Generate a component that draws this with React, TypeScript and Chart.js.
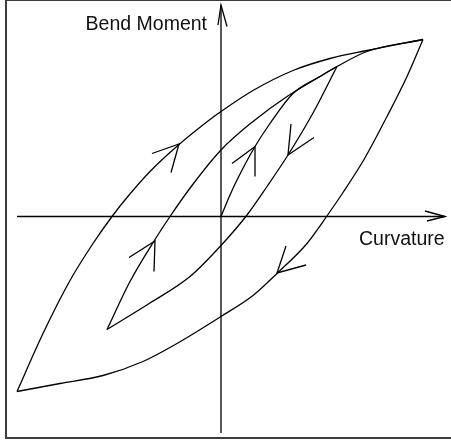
import React, { useEffect, useRef } from "react";
import { Chart, registerables } from "chart.js";

Chart.register(...registerables);

type P = [number, number];

// Hysteresis branches (curvature, bend moment), arbitrary units, origin at axes crossing
const outerLoading: P[] = [
  [-204, -175], [-178, -117], [-151, -64], [-128, -27], [-109, 0], [-94, 19],
  [-71, 45], [-42, 72], [-11, 97], [0, 105], [32, 126], [72, 146], [109, 158], [146, 166], [202, 177],
];
const outerUnloading: P[] = [
  [202, 177], [186, 140], [166, 100], [143, 57], [122, 24], [107, 2], [86, -27], [57, -56],
  [32, -79], [0, -100], [-44, -127], [-78, -145], [-118, -159], [-161, -167], [-204, -175],
];
const innerReloading: P[] = [
  [-114, -113], [-91, -65], [-66, -23], [-51, 0], [-29, 31], [0, 66.5], [32, 95],
  [66, 120], [99, 140], [116, 150], [146, 165], [202, 177],
];
const virginCurve: P[] = [
  [0, 0], [9, 21.5], [16, 36.5], [34, 70], [49, 93], [72, 123], [99, 140], [116, 150],
];
const innerUnloading: P[] = [
  [116, 150], [92, 103.5], [67, 61.5], [46, 30], [26, 1.5], [0, -29], [-31, -60], [-71, -86.5], [-114, -113],
];

// Direction arrowheads: barb, tip, barb
const arrowHeads: P[][] = [
  [[-69, 63], [-42, 72.5], [-50, 44]],
  [[11, 53], [34, 70], [34, 40]],
  [[70, 92.5], [67, 61.5], [93, 79]],
  [[-92, -41], [-66, -24.5], [-67, -55]],
  [[65, -29.5], [56, -56.5], [85, -48.5]],
];

// Axes with arrows
const momentAxis: P[] = [[0, -216.5], [0, 211.5]];
const momentArrow: P[] = [[-3, 191.5], [0, 211.5], [6, 190]];
const curvatureAxis: P[] = [[-204, 0], [224, 0]];
const curvatureArrow: P[] = [[204, 5.5], [224, 0], [206, -4.5]];

const axisTitles = ["Bend Moment", "Curvature"];

const toPts = (a: P[]) => a.map(([x, y]) => ({ x, y }));

const labelPlugin = {
  id: "axisTitles",
  afterDatasetsDraw(chart: any, _args: any, opts: any) {
    const { ctx, scales } = chart;
    ctx.save();
    ctx.font = '19.5px "Liberation Sans", Arial, sans-serif';
    ctx.fillStyle = "#111";
    ctx.textBaseline = "alphabetic";
    (opts.items || []).forEach((it: any) => {
      ctx.textAlign = it.align;
      ctx.fillText(it.text, scales.x.getPixelForValue(it.x), scales.y.getPixelForValue(it.y));
    });
    ctx.restore();
  },
};

export default function App() {
  const ref = useRef<HTMLCanvasElement | null>(null);
  useEffect(() => {
    if (!ref.current) return;
    const curve = (d: P[]) => ({
      data: toPts(d),
      showLine: true,
      borderColor: "#000",
      borderWidth: 1.3,
      pointRadius: 0,
      cubicInterpolationMode: "monotone",
      fill: false,
    });
    const straight = (d: P[]) => ({
      data: toPts(d),
      showLine: true,
      borderColor: "#000",
      borderWidth: 1.3,
      pointRadius: 0,
      tension: 0,
      fill: false,
    });
    const chart = new Chart(ref.current, {
      type: "scatter",
      data: {
        datasets: [
          straight(momentAxis),
          straight(momentArrow),
          straight(curvatureAxis),
          straight(curvatureArrow),
          curve(outerLoading),
          curve(outerUnloading),
          curve(innerReloading),
          curve(virginCurve),
          curve(innerUnloading),
          ...arrowHeads.map((a) => straight(a)),
        ] as any,
      },
      options: {
        animation: false,
        responsive: false,
        layout: { padding: 0 },
        scales: {
          x: { type: "linear", min: -221, max: 230, display: false },
          y: { type: "linear", min: -224.5, max: 216.5, display: false },
        },
        plugins: {
          legend: { display: false },
          tooltip: { enabled: false },
          axisTitles: {
            items: [
              { text: axisTitles[0], x: -14, y: 186.5, align: "right" },
              { text: axisTitles[1], x: 138, y: -28, align: "left" },
            ],
          },
        } as any,
      },
      plugins: [labelPlugin],
    });
    return () => chart.destroy();
  }, []);
  return (
    <div
      style={{
        position: "absolute",
        left: 0,
        top: 0,
        width: 451,
        height: 441,
        overflow: "hidden",
        background: "#fff",
      }}
    >
      <canvas ref={ref} width={451} height={441} style={{ display: "block" }} />
      <div
        style={{
          position: "absolute",
          left: 5,
          top: -1,
          width: 470,
          height: 440,
          border: "2px solid #3c3c3c",
          boxSizing: "border-box",
          pointerEvents: "none",
        }}
      />
    </div>
  );
}
